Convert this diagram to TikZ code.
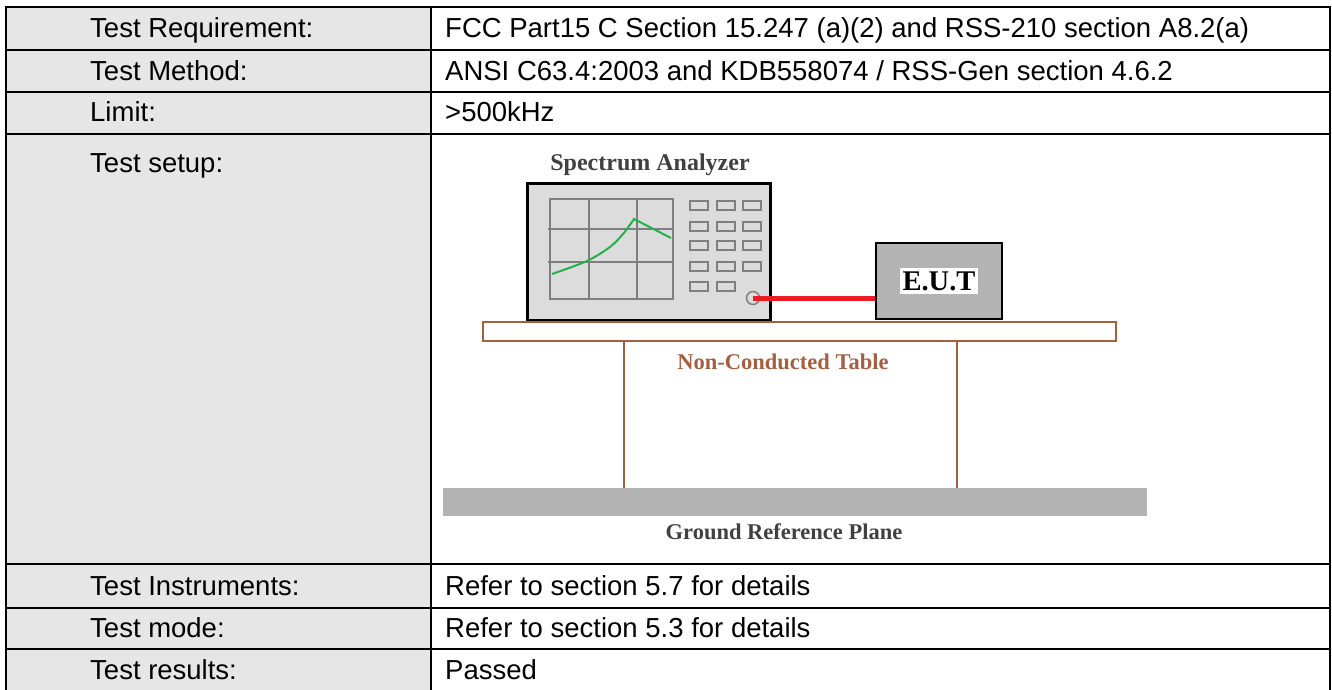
\documentclass[tikz,border=0pt]{standalone}
\usepackage{fontspec}
\setmainfont{Liberation Sans}
\newfontfamily\figfont{Liberation Serif}
\definecolor{cellgray}{HTML}{E6E6E6}
\definecolor{panelgray}{HTML}{DCDCDC}
\definecolor{eutgray}{HTML}{B3B3B3}
\definecolor{tablebrown}{HTML}{A55F40}
\definecolor{labelgray}{HTML}{404040}
\definecolor{tracegreen}{HTML}{22B14C}
\definecolor{cablered}{HTML}{ED1C24}
\definecolor{gridgray}{HTML}{7F7F7F}
\tikzset{
  lbl/.style={anchor=base west, inner sep=0pt, font=\fontsize{27.5}{32}\selectfont},
  fig/.style={inner sep=0pt, text=labelgray, font=\figfont\bfseries\fontsize{22.5}{26}\selectfont},
  btn/.style={draw=gridgray, line width=1.5pt, fill=panelgray},
  rule/.style={line width=2.5pt},
}
\begin{document}
\begin{tikzpicture}[x=1pt,y=-1pt]
\useasboundingbox (0,0) rectangle (1332,689);
% table frame
\fill[cellgray] (6,7) rectangle (431,700);
\foreach \y in {50,92,134,564,608,649}
{\draw[rule] (6,\y) -- (1330,\y);
}
\draw[rule] (6,700) -- (6,7) -- (1330,7) -- (1330,700);
\draw[rule] (431,7) -- (431,700);
% rows
\node[lbl] (req) at (90,37) {Test Requirement:};
\node[lbl] (reqv) at (445,37) {FCC Part15 C Section 15.247 (a)(2) and RSS-210 section A8.2(a)};
\node[lbl] (meth) at (90,80) {Test Method:};
\node[lbl] (methv) at (445,80) {ANSI C63.4:2003 and KDB558074 / RSS-Gen section 4.6.2};
\node[lbl] (lim) at (90,121) {Limit:};
\node[lbl] (limv) at (445,121) {>500kHz};
\node[lbl] (setup) at (90,172) {Test setup:};
\node[lbl] (inst) at (90,595) {Test Instruments:};
\node[lbl] (instv) at (445,595) {Refer to section 5.7 for details};
\node[lbl] (mode) at (90,637) {Test mode:};
\node[lbl] (modev) at (445,637) {Refer to section 5.3 for details};
\node[lbl] (res) at (90,679) {Test results:};
\node[lbl] (resv) at (445,679) {Passed};
% spectrum analyzer
\node[fig, font=\figfont\bfseries\fontsize{24}{28}\selectfont] (sa) at (650,165) {Spectrum Analyzer};
\draw[line width=3pt, fill=panelgray] (527,183) rectangle (770,320);
\draw[gridgray, line width=2pt] (550,199) rectangle (673,299);
\foreach \x in {589,637}
{\draw[gridgray, line width=2pt] (\x,199) -- (\x,299);
}
\foreach \y in {229,262}
{\draw[gridgray, line width=2pt] (548,\y) -- (673,\y);
}
\draw[tracegreen, line width=2pt] plot[smooth] coordinates {(552,274) (587,261) (610,247) (623,234) (634,219)} -- (671,238);
\foreach \x in {690,717,743}
{\foreach \y in {201,222,241,262}
{\draw[btn] (\x,\y) rectangle ++(18,9);
}}
\foreach \x in {690,717}
{\draw[btn] (\x,282) rectangle ++(18,9);
}
\node[circle, draw=gridgray, line width=1.5pt, minimum size=13pt, inner sep=0pt] (port) at (753,298) {};
% E.U.T
\node[draw, line width=2.5pt, fill=eutgray, minimum width=126pt, minimum height=76pt] (eut) at (939,281) {};
\node[fig, fill=white, text=black, inner sep=3pt, font=\figfont\bfseries\fontsize{28.5}{32}\selectfont] (eutlbl) at (eut) {E.U.T};
\draw[cablered, line width=5pt] (port.center) -- (port -| eut.west);
% table and ground
\draw[tablebrown, line width=2.5pt] (483,322) rectangle (1116,341);
\foreach \x in {624,957}
{\draw[tablebrown, line width=2pt] (\x,341) -- (\x,488);
}
\node[fig, text=tablebrown] (tbl) at (783,362) {Non-Conducted Table};
\fill[eutgray] (443,488) rectangle (1147,516);
\node[fig] (grp) at (784,532) {Ground Reference Plane};
\end{tikzpicture}
\end{document}
